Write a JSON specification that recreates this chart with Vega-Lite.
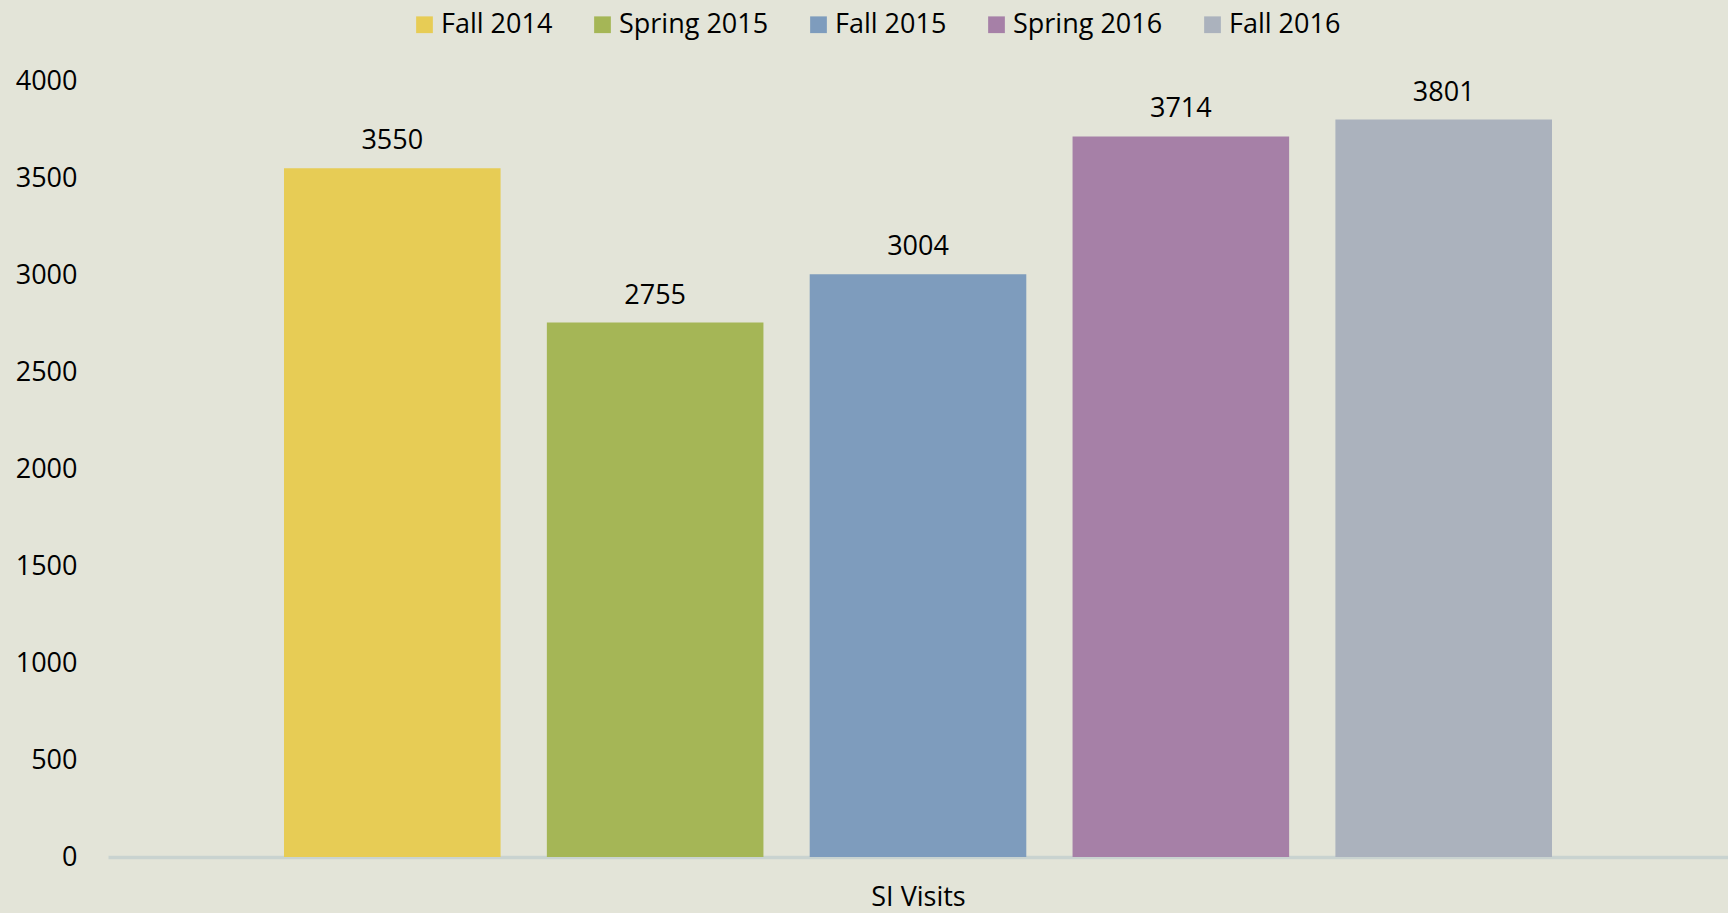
{
  "$schema": "https://vega.github.io/schema/vega-lite/v6.json",
  "width": 1620,
  "height": 776,
  "autosize": {"type": "none"},
  "padding": {"left": 108, "top": 81, "right": 0, "bottom": 56},
  "background": "#E3E4D8",
  "data": {"values": [
    {"category": "SI Visits", "term": "Fall 2014", "visits": 3550},
    {"category": "SI Visits", "term": "Spring 2015", "visits": 2755},
    {"category": "SI Visits", "term": "Fall 2015", "visits": 3004},
    {"category": "SI Visits", "term": "Spring 2016", "visits": 3714},
    {"category": "SI Visits", "term": "Fall 2016", "visits": 3801}
  ]},
  "encoding": {
    "x": {"field": "category", "type": "nominal",
      "scale": {"paddingInner": 0, "paddingOuter": 0.1388},
      "axis": {"title": "SI Visits", "labels": false, "ticks": false, "domain": true,
        "domainColor": "#C9D3D0", "domainWidth": 3.5, "titleFont": "Open Sans",
        "titleFontSize": 27, "titleFontWeight": "normal", "titleColor": "#000000", "titlePadding": 27}},
    "xOffset": {"field": "term", "type": "nominal",
      "sort": ["Fall 2014", "Spring 2015", "Fall 2015", "Spring 2016", "Fall 2016"],
      "scale": {"paddingInner": 0.176, "paddingOuter": 0}},
    "y": {"field": "visits", "type": "quantitative",
      "scale": {"domain": [0, 4000], "nice": false},
      "axis": {"title": null, "values": [0, 500, 1000, 1500, 2000, 2500, 3000, 3500, 4000],
        "format": "d", "grid": false, "ticks": false, "domain": false, "labelPadding": 31,
        "labelFont": "Open Sans", "labelFontSize": 27, "labelColor": "#000000"}}
  },
  "layer": [
    {
      "mark": {"type": "bar"},
      "encoding": {
        "color": {"field": "term", "type": "nominal",
          "sort": ["Fall 2014", "Spring 2015", "Fall 2015", "Spring 2016", "Fall 2016"],
          "scale": {"domain": ["Fall 2014", "Spring 2015", "Fall 2015", "Spring 2016", "Fall 2016"],
            "range": ["#E7CC55", "#A5B656", "#7E9CBD", "#A680A7", "#ABB2BD"]},
          "legend": {"title": null, "orient": "none", "direction": "horizontal",
            "legendX": 303, "legendY": -70, "symbolType": "square", "symbolSize": 280,
            "symbolStrokeWidth": 0, "labelFont": "Open Sans", "labelFontSize": 27,
            "labelColor": "#000000", "columnPadding": 36, "labelOffset": 3}}
      }
    },
    {
      "mark": {"type": "text", "baseline": "alphabetic", "dy": -19, "font": "Open Sans",
        "fontSize": 27, "color": "#000000"},
      "encoding": {"text": {"field": "visits", "type": "quantitative"}}
    }
  ],
  "config": {"view": {"stroke": null}}
}
